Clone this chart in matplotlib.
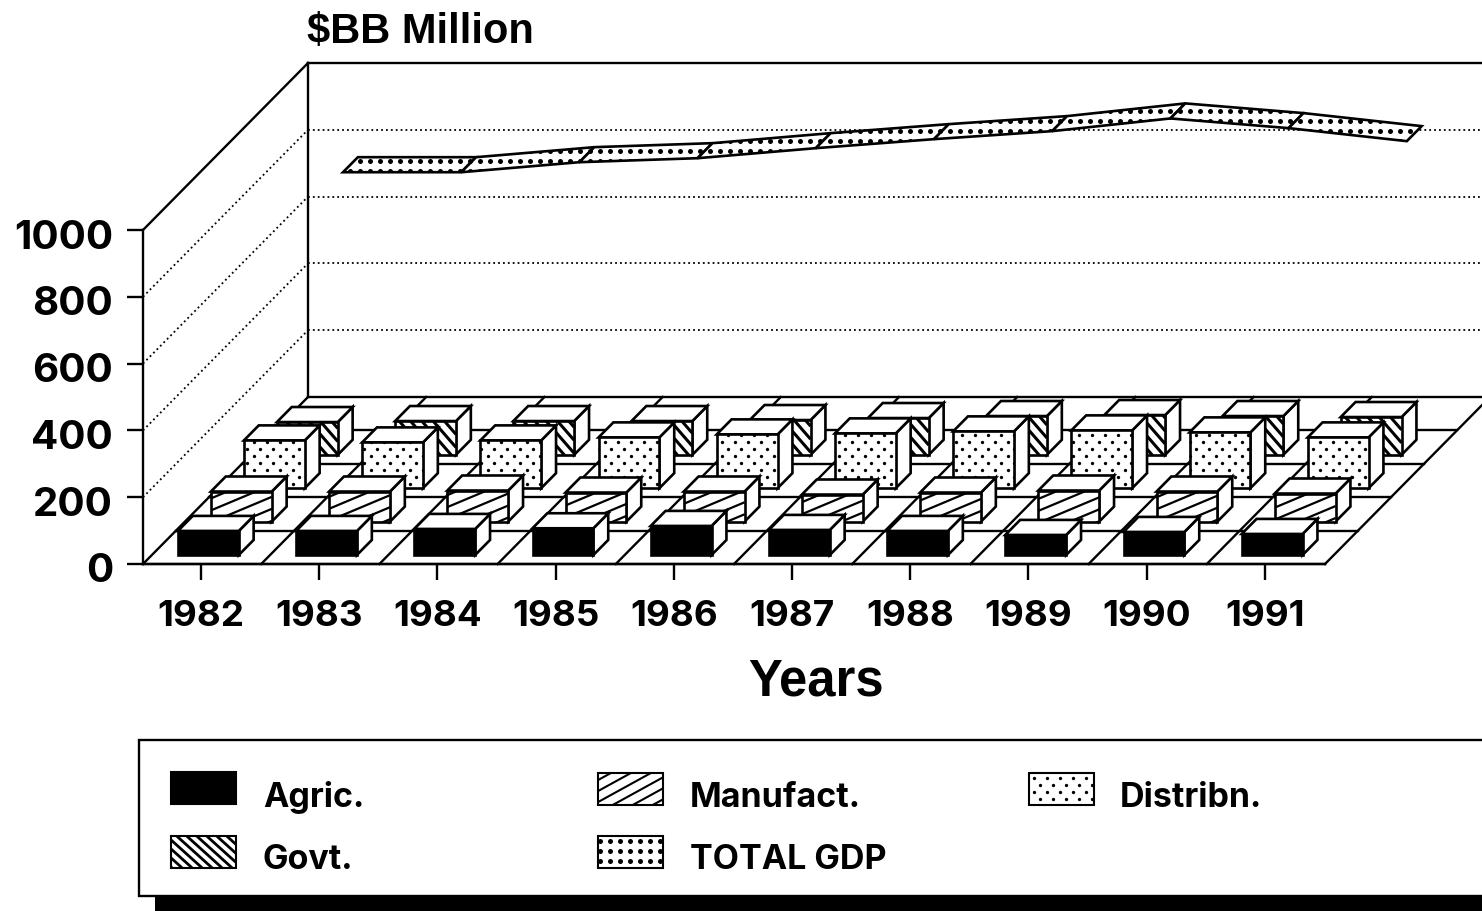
import matplotlib
matplotlib.use('Agg')
from matplotlib import pyplot as plt
from matplotlib.collections import LineCollection
from matplotlib.patches import Polygon, Rectangle
from matplotlib.transforms import IdentityTransform, ScaledTranslation

years = ['1982', '1983', '1984', '1985', '1986', '1987', '1988', '1989', '1990', '1991']
y_ticks = [0, 200, 400, 600, 800, 1000]

agric = [72, 72, 78, 80, 87, 75, 72, 60, 69, 63]
manufact = [90, 90, 93, 87, 90, 81, 87, 93, 90, 84]
distribn = [143, 137, 143, 152, 161, 164, 170, 173, 167, 152]
govt = [98, 101, 101, 101, 104, 110, 116, 119, 116, 113]
total_gdp = [746, 746, 776, 788, 818, 845, 869, 907, 878, 839]

W, H = 1482, 912
# chart units -> pixels: one category is 118.2 px, 1000 value units are 334 px
CAT_PX = 118.2
VAL_PX = 0.334
X0_PX, Y0_PX = 143, 565
# one depth row moves the floor 33 px right and 33.4 px up
KX = 33.0 / CAT_PX
KY = 33.4 / VAL_PX
ROWS = 5

plt.rcParams['font.family'] = ['Inter', 'DejaVu Sans']
HELV = 'Liberation Sans'
DOTTED = (0, (1, 1.7))

fig = plt.figure(figsize=(W / 100, H / 100), dpi=100)
ax = fig.add_axes([0, 0, 1, 1])
ax.set_xlim(-X0_PX / CAT_PX, (W - X0_PX) / CAT_PX)
ax.set_ylim((Y0_PX - H) / VAL_PX, Y0_PX / VAL_PX)
ax.patch.set_visible(False)


def px(x, y):
    return x / W, 1 - y / H


def proj(c, v, d):
    return c + d * KX, v + d * KY


def patch_box(patch):
    corners = patch.get_transform().transform(patch.get_path().vertices)
    return corners[:, 0].min(), corners[:, 0].max(), corners[:, 1].min(), corners[:, 1].max()


def hatch_lines(patch, slope, step, lw):
    # line hatch at a slope matplotlib's own hatches do not have, clipped to the patch
    x1, x2, y1, y2 = patch_box(patch)
    lines = []
    b = min(y1 - slope * x1, y1 - slope * x2)
    b -= b % step
    top = max(y2 - slope * x1, y2 - slope * x2)
    while b < top:
        lines.append([(x1, slope * x1 + b), (x2, slope * x2 + b)])
        b += step
    lc = LineCollection(lines, colors='k', linewidths=lw, transform=IdentityTransform(),
                        zorder=patch.get_zorder())
    ax.add_collection(lc, autolim=False)
    lc.set_clip_path(patch)


def hatch_dots(patch, step_x, step_y, size, stagger):
    x1, x2, y1, y2 = patch_box(patch)
    xs, ys = [], []
    row = int(y1 // step_y)
    while row * step_y < y2 + step_y:
        shift = step_x / 2 if stagger and row % 2 else 0
        col = int(x1 // step_x) - 1
        while col * step_x + shift < x2 + step_x:
            xs.append(col * step_x + shift)
            ys.append(row * step_y)
            col += 1
        row += 1
    dots, = ax.plot(xs, ys, ls='none', marker='o', ms=size, mfc='k', mec='none',
                    transform=IdentityTransform(), zorder=patch.get_zorder())
    dots.set_clip_path(patch)


def style_face(patch, style):
    if style == 'solid':
        patch.set_facecolor('k')
    elif style == 'fine':
        hatch_dots(patch, 13, 7, 2.4, True)
    elif style == 'dots':
        hatch_dots(patch, 10, 10, 3.6, False)
    elif style == 'north':
        hatch_lines(patch, 0.42, 12, 1.6)
    elif style == 'south':
        hatch_lines(patch, -1.15, 13, 2.2)
    elif style == 'north_key':
        hatch_lines(patch, 0.55, 11, 1.5)
    elif style == 'south_key':
        hatch_lines(patch, -0.9, 9, 2.0)


def bar(i, value, row, style, z):
    c0, c1 = i + 0.22, i + 0.735
    d0, d1 = row + 0.27, row + 0.72
    front = [proj(c0, 0, d0), proj(c1, 0, d0), proj(c1, value, d0), proj(c0, value, d0)]
    side = [proj(c1, 0, d0), proj(c1, 0, d1), proj(c1, value, d1), proj(c1, value, d0)]
    top = [proj(c0, value, d0), proj(c1, value, d0), proj(c1, value, d1), proj(c0, value, d1)]
    for pts in (side, top):
        ax.add_patch(Polygon(pts, fc='w', ec='k', lw=1.9, zorder=z))
    face = Polygon(front, fc='w', ec='k', lw=1.9, zorder=z)
    ax.add_patch(face)
    style_face(face, style)


# floor
for d in range(ROWS + 1):
    ax.plot([proj(0, 0, d)[0], proj(len(years), 0, d)[0]], [proj(0, 0, d)[1]] * 2,
            color='k', lw=1.7, zorder=1)
for i in range(len(years) + 1):
    xs, ys = zip(proj(i, 0, 0), proj(i, 0, ROWS))
    ax.plot(xs, ys, color='k', lw=1.7, zorder=1)

# walls
top_v = y_ticks[-1]
xs, ys = zip(proj(0, 0, ROWS), proj(0, top_v, ROWS))
ax.plot(xs, ys, color='k', lw=1.7, zorder=1)
xs, ys = zip(proj(0, top_v, 0), proj(0, top_v, ROWS))
ax.plot(xs, ys, color='k', lw=1.7, zorder=1)
ax.plot([proj(0, top_v, ROWS)[0], ax.get_xlim()[1]], [proj(0, top_v, ROWS)[1]] * 2,
        color='k', lw=1.7, zorder=1)
for v in y_ticks[1:-1]:
    xs, ys = zip(proj(0, v, 0), proj(0, v, ROWS))
    ax.plot(xs, ys, color='k', lw=1.3, ls=DOTTED, zorder=1)
    ax.plot([proj(0, v, ROWS)[0], ax.get_xlim()[1]], [proj(0, v, ROWS)[1]] * 2,
            color='k', lw=1.3, ls=DOTTED, zorder=1)

# bars, back row first
for row, (vals, style) in reversed(list(enumerate(
        [(agric, 'solid'), (manufact, 'north'), (distribn, 'fine'), (govt, 'south')]))):
    for i, v in enumerate(vals):
        bar(i, v, row, style, 5 - row + 2)

# total GDP ribbon in the back row
for i in range(len(years) - 1):
    c0, c1 = i + 0.5, i + 1.5
    d0, d1 = 4.27, 4.72
    pts = [proj(c0, total_gdp[i], d0), proj(c1, total_gdp[i + 1], d0),
           proj(c1, total_gdp[i + 1], d1), proj(c0, total_gdp[i], d1)]
    seg = Polygon(pts, fc='w', ec='k', lw=1.9, zorder=2)
    ax.add_patch(seg)
    style_face(seg, 'dots')

# axes
for name in ('top', 'right'):
    ax.spines[name].set_visible(False)
ax.spines['left'].set_position(('data', 0))
ax.spines['left'].set_bounds(0, top_v)
ax.spines['bottom'].set_position(('data', 0))
ax.spines['bottom'].set_bounds(0, len(years))
for s in ('left', 'bottom'):
    ax.spines[s].set_linewidth(1.7)
ax.set_yticks(y_ticks)
ax.set_xticks([i + 0.49 for i in range(len(years))], years)
ax.tick_params(axis='y', length=11.5, width=1.7, pad=10, labelsize=29)
ax.tick_params(axis='x', length=11.5, width=1.7, pad=14, labelsize=26.5)
for lab in ax.get_xticklabels():
    lab.set_weight('bold')
for lab in ax.get_yticklabels():
    lab.set_weight('bold')
    lab.set_transform(lab.get_transform() + ScaledTranslation(0, -0.03, fig.dpi_scale_trans))

ax.text(*px(307, 43), '$BB Million', transform=ax.transAxes, family=HELV, weight='bold',
        fontsize=30, ha='left', va='baseline')
ax.text(*px(816, 696), 'Years', transform=ax.transAxes, family=HELV, weight='bold',
        fontsize=36.5, ha='center', va='baseline')

# legend
box_x, box_y = px(139, 897)
ax.add_patch(Rectangle(px(155, 912), 1 - 155 / W, 15 / H, transform=ax.transAxes, fc='k', ec='none', zorder=10))
ax.add_patch(Rectangle((box_x, box_y), 1.1, 156 / H, transform=ax.transAxes, fc='w', ec='k',
                       lw=1.7, zorder=11))
names = ['Agric.', 'Manufact.', 'Distribn.', 'Govt.', 'TOTAL GDP']
styles = ['solid', 'north_key', 'fine', 'south_key', 'dots']
key_pos = [(171, 773), (598, 774), (1029, 774), (171, 837), (598, 837)]
text_pos = [(263, 807), (690, 807), (1120, 807), (263, 869), (690, 869)]
for name, style, kp, tp in zip(names, styles, key_pos, text_pos):
    key = Rectangle(px(kp[0], kp[1] + 32), 65 / W, 32 / H, transform=ax.transAxes, fc='w', ec='k',
                    lw=1.5, zorder=12)
    ax.add_patch(key)
    style_face(key, style)
    ax.text(*px(*tp), name, transform=ax.transAxes, weight='bold', fontsize=24.5,
            ha='left', va='baseline', zorder=12)

fig.savefig('out.png', dpi=100)
